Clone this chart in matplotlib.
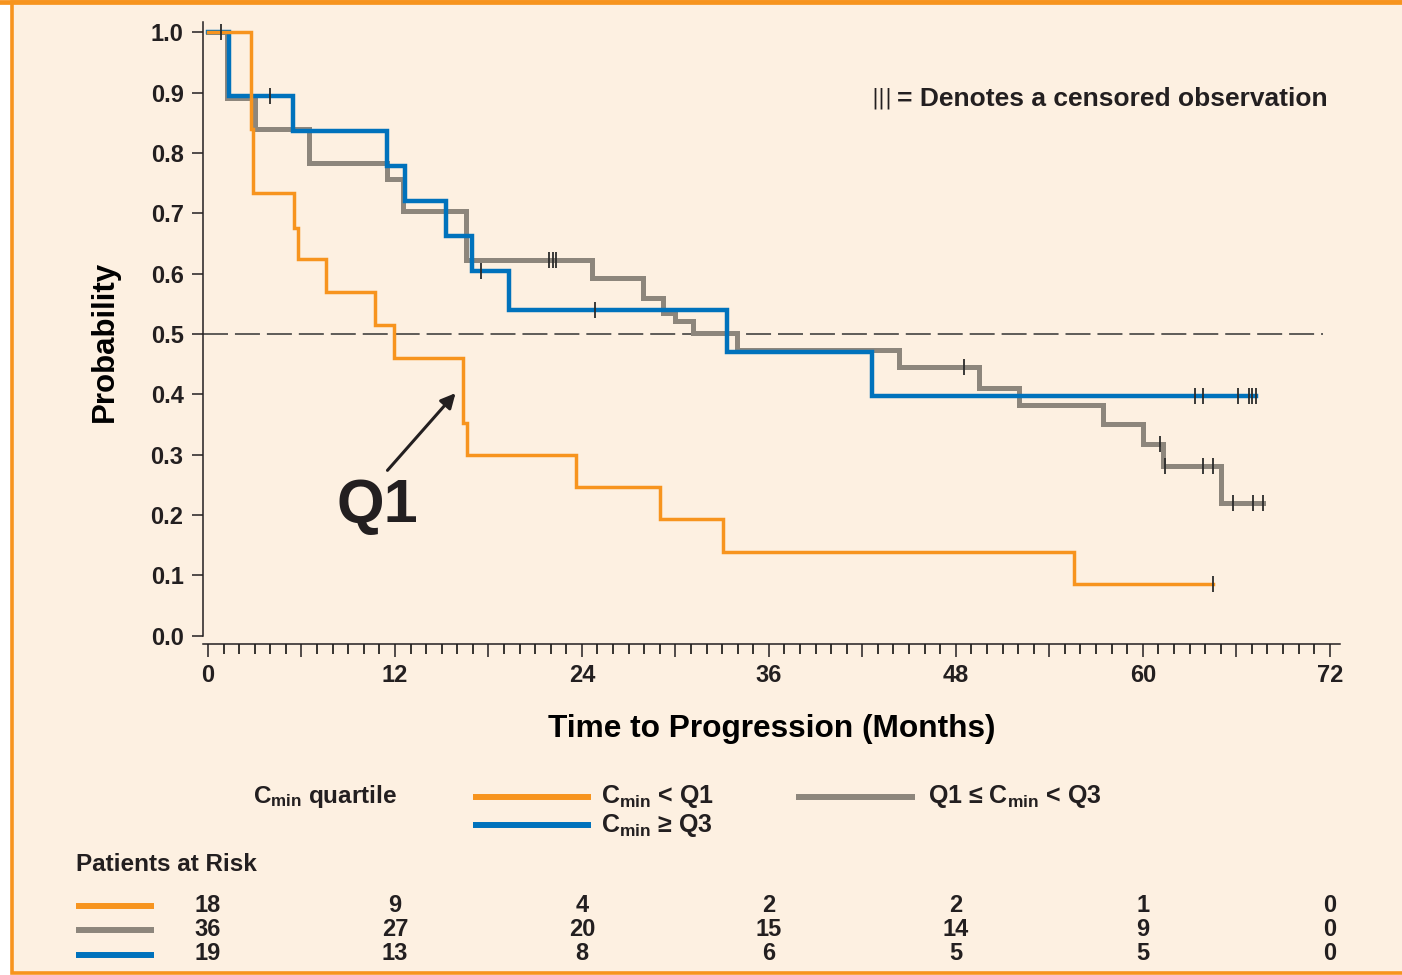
import numpy as np
import matplotlib
matplotlib.use("Agg")
import matplotlib.pyplot as plt
from matplotlib.lines import Line2D
from matplotlib.patches import Rectangle
from matplotlib.ticker import MultipleLocator, FuncFormatter
from matplotlib.transforms import blended_transform_factory

# ---------------- data ----------------
q1_times = [0, 2.76, 2.87, 5.54, 5.76, 7.57, 10.72, 11.94, 16.39, 16.62, 23.62, 29.01, 33.04, 55.58]
q1_surv = [1.0, 0.84, 0.733, 0.676, 0.624, 0.570, 0.515, 0.460, 0.352, 0.300, 0.247, 0.194, 0.138, 0.085]
q1_end = 64.49
q1_censor = [0.83, 64.49]

mid_times = [0, 1.24, 3.02, 6.48, 11.51, 12.54, 16.56, 24.63, 27.94, 29.22, 29.97, 31.15, 33.97,
             44.37, 49.51, 52.07, 57.46, 59.99, 61.32, 65.0]
mid_surv = [1.0, 0.891, 0.839, 0.783, 0.757, 0.703, 0.623, 0.592, 0.560, 0.534, 0.522, 0.502, 0.474,
            0.446, 0.411, 0.382, 0.350, 0.317, 0.281, 0.220]
mid_end = 67.7
mid_censor = [21.91, 22.14, 22.34, 48.54, 61.1, 61.4, 63.88, 64.53, 65.77, 67.09, 67.7]

q3_times = [0, 1.37, 5.44, 11.51, 12.64, 15.28, 16.96, 19.34, 33.29, 42.64]
q3_surv = [1.0, 0.894, 0.836, 0.778, 0.720, 0.662, 0.605, 0.540, 0.470, 0.397]
q3_end = 67.25
q3_censor = [3.98, 17.5, 24.84, 63.35, 63.88, 66.13, 66.82, 66.99, 67.25]

median_level = 0.5
x_ticks_labeled = [0, 12, 24, 36, 48, 60, 72]
y_ticks = [0.0, 0.1, 0.2, 0.3, 0.4, 0.5, 0.6, 0.7, 0.8, 0.9, 1.0]

risk_times = [0, 12, 24, 36, 48, 60, 72]
risk_q1 = [18, 9, 4, 2, 2, 1, 0]
risk_mid = [36, 27, 20, 15, 14, 9, 0]
risk_q3 = [19, 13, 8, 6, 5, 5, 0]

# ---------------- style ----------------
ORANGE = "#F7941E"
BLUE = "#0072BC"
GRAY = "#8D867C"
BG = "#FDF0E1"
INK = "#231F20"

plt.rcParams["font.family"] = ["Liberation Sans", "DejaVu Sans"]
plt.rcParams["font.weight"] = "bold"
plt.rcParams["mathtext.fontset"] = "custom"
plt.rcParams["mathtext.rm"] = "Liberation Sans:bold"
plt.rcParams["mathtext.it"] = "Liberation Sans:bold"
plt.rcParams["mathtext.bf"] = "Liberation Sans:bold"
plt.rcParams["lines.scale_dashes"] = False
plt.rcParams["text.color"] = INK

W, H = 1402, 975
fig = plt.figure(figsize=(W / 100, H / 100), dpi=100, facecolor="white")


def fx(x):
    return x / W


def fy(y):
    return 1 - y / H


# panel background with orange frame
fig.add_artist(Rectangle((fx(11.5), fy(973)), fx(1430) - fx(11.5), fy(2) - fy(973),
                         transform=fig.transFigure, facecolor=BG, edgecolor=ORANGE,
                         lw=2.6, zorder=0))
fig.add_artist(Line2D([0, 1], [fy(2), fy(2)], transform=fig.transFigure,
                      color=ORANGE, lw=3.4, zorder=0.5))

ax = fig.add_axes([fx(203), fy(635.7), fx(1340) - fx(203), fy(22) - fy(635.7)])
ax.set_facecolor("none")
ax.set_xlim(-0.32, 72.66)
ax.set_ylim(0, 1.017)

for s in ["top", "right"]:
    ax.spines[s].set_visible(False)
for s in ["left", "bottom"]:
    ax.spines[s].set_linewidth(1.1)
    ax.spines[s].set_color(INK)
ax.spines["bottom"].set_position(("outward", 5.8))

ax.set_yticks(y_ticks)
ax.yaxis.set_major_formatter(FuncFormatter(lambda v, p: f"{v:.1f}"))
ax.tick_params(axis="y", direction="out", length=8, width=1.1, pad=6,
               labelsize=17, colors=INK)

ax.xaxis.set_major_locator(MultipleLocator(6))
ax.xaxis.set_minor_locator(MultipleLocator(1))
ax.xaxis.set_major_formatter(FuncFormatter(
    lambda v, p: f"{int(round(v))}" if int(round(v)) in x_ticks_labeled else ""))
ax.tick_params(axis="x", which="major", direction="out", length=9.5, width=1.1, pad=5,
               labelsize=17, colors=INK)
ax.tick_params(axis="x", which="minor", direction="out", length=7, width=1.1)


def curve(times, surv, end):
    t = np.append(np.asarray(times, float), end)
    s = np.append(np.asarray(surv, float), surv[-1])
    return t, s


def surv_at(times, surv, t):
    idx = np.searchsorted(np.asarray(times), np.asarray(t), side="right") - 1
    return np.asarray(surv)[idx]


# median reference line
ax.hlines(median_level, -0.32, 71.57, colors="#333333", lw=1.1,
          linestyles=(0, (18, 5)), zorder=1)

groups = [
    (mid_times, mid_surv, mid_end, mid_censor, GRAY, 3.6, 2),
    (q3_times, q3_surv, q3_end, q3_censor, BLUE, 3.2, 3),
    (q1_times, q1_surv, q1_end, q1_censor, ORANGE, 2.5, 4),
]
for times, surv, end, cens, col, lw, z in groups:
    t, s = curve(times, surv, end)
    ax.step(t, s, where="post", color=col, lw=lw, zorder=z, solid_joinstyle="miter")
    ax.plot(cens, surv_at(times, surv, cens), ls="none", marker="|", ms=11.5,
            mew=1.3, color="#2B2B2B", zorder=6)

# axis labels
ax.set_xlabel("Time to Progression (Months)", fontsize=22.8, fontweight="bold")
ax.xaxis.label.set_va("baseline")
ax.xaxis.set_label_coords((771.5 - 203) / 1137, (635.7 - 737) / 613.7)
ax.set_ylabel("Probability", fontsize=22.5, fontweight="bold")
ax.yaxis.label.set_va("center")
ax.yaxis.set_label_coords((105 - 203) / 1137, (635.7 - 341) / 613.7)

# Q1 annotation
ax.text(10.9, 0.189, "Q1", fontsize=44, fontweight="bold", ha="center", va="baseline")
ax.annotate("", xy=(15.89, 0.402), xytext=(11.52, 0.274),
            arrowprops=dict(arrowstyle="-|>", lw=2.2, color=INK, mutation_scale=22,
                            shrinkA=0, shrinkB=0))

# censor note
fig.text(fx(871), fy(98), "|||", fontsize=15, fontweight="normal", ha="left", va="center",
         family=["DejaVu Sans"])
fig.text(fx(897), fy(106), "= Denotes a censored observation", fontsize=19,
         fontweight="bold", ha="left", va="baseline")

# legend (manual)
fig.text(fx(253), fy(803), r"$C_{min}$ quartile", fontsize=17.5, ha="left", va="baseline")
legend_items = [
    (473, 591, 797, ORANGE, r"$C_{min}$ < Q1", 601, 803),
    (473, 591, 825, BLUE, r"$C_{min}$ ≥ Q3", 601, 832),
    (796, 915, 797, GRAY, r"Q1 ≤ $C_{min}$ < Q3", 928, 803),
]
for x0, x1, yy, col, lab, tx, ty in legend_items:
    fig.add_artist(Line2D([fx(x0), fx(x1)], [fy(yy), fy(yy)], transform=fig.transFigure,
                          color=col, lw=4.3, solid_capstyle="butt"))
    fig.text(fx(tx), fy(ty), lab, fontsize=18, ha="left", va="baseline")

# patients at risk table
fig.text(fx(76), fy(871), "Patients at Risk", fontsize=17.5, ha="left", va="baseline")
tr = blended_transform_factory(ax.transData, fig.transFigure)
rows = [(risk_q1, ORANGE, 906, 912), (risk_mid, GRAY, 930, 936), (risk_q3, BLUE, 955, 960)]
for vals, col, ly, by in rows:
    fig.add_artist(Line2D([fx(76), fx(154)], [fy(ly), fy(ly)], transform=fig.transFigure,
                          color=col, lw=4.3, solid_capstyle="butt"))
    for t, n in zip(risk_times, vals):
        ax.text(t, fy(by), str(n), transform=tr, fontsize=17, ha="center", va="baseline",
                clip_on=False)

fig.savefig("out.png", dpi=100, facecolor=fig.get_facecolor())
